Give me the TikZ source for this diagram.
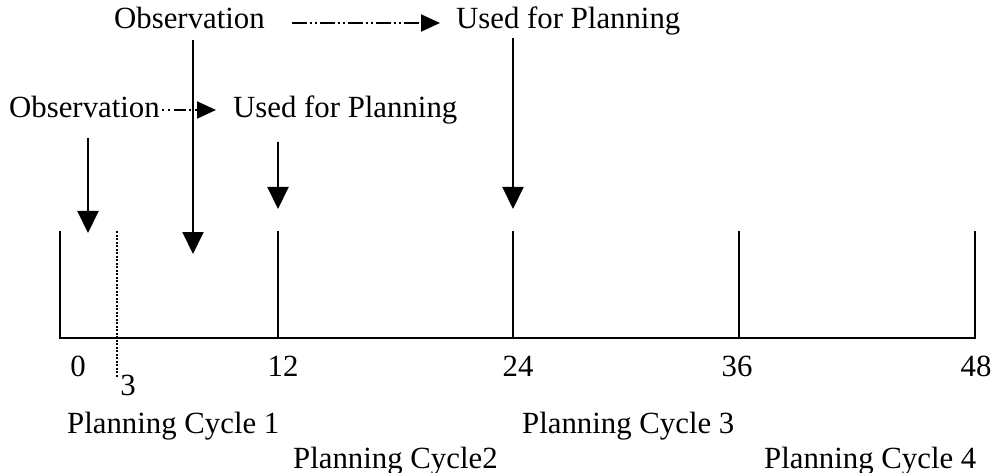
\documentclass[tikz,border=0pt]{standalone}
\usepackage{fontspec}
\setmainfont{Liberation Serif}
\usetikzlibrary{arrows.meta}
\tikzset{
  lbl/.style={inner sep=0pt, anchor=base west, font=\fontsize{30.8}{36}\selectfont},
  num/.style={inner sep=0pt, anchor=base, font=\fontsize{30.8}{36}\selectfont},
  tline/.style={line width=2.2pt},
  downarrow/.style={line width=2pt, -{Triangle[width=21pt,length=22pt]}},
  linkarrow/.style={line width=2pt, -{Triangle[width=17pt,length=19pt]}},
}
\begin{document}
\begin{tikzpicture}[x=1pt,y=-1pt]
\useasboundingbox (0,0) rectangle (993,473);

% labels along the top
\node[lbl] (obs2) at (114,29) {Observation};
\node[lbl] (use2) at (456,29) {Used for Planning};
\node[lbl] (obs1) at (9,118) {Observation};
\node[lbl] (use1) at (233,118) {Used for Planning};

% time axis with cycle boundaries
\draw[tline] (60,231) -- (60,338) -- (975,338) -- (975,231);
\draw[tline] (278,231) -- (278,338);
\draw[tline] (513,231) -- (513,338);
\draw[tline] (739,231) -- (739,338);
\draw[line width=2pt, dash pattern=on 2pt off 1.5pt] (117,231) -- (117,378);

% tick labels
\node[num] (t0)  at (78,376)  {0};
\node[num] (t3)  at (128,395) {3};
\node[num] (t12) at (283,376) {12};
\node[num] (t24) at (518,376) {24};
\node[num] (t36) at (737,376) {36};
\node[num] (t48) at (976,376) {48};

% planning cycle names
\node[lbl] (pc1) at (67,433)  {Planning Cycle 1};
\node[lbl] (pc2) at (293,468) {Planning Cycle2};
\node[lbl] (pc3) at (522,433) {Planning Cycle 3};
\node[lbl] (pc4) at (764,468) {Planning Cycle 4};

% observation / use markers
\coordinate (a1s) at (88,138);  \coordinate (a1e) at (88,233);
\coordinate (a2s) at (193,40);  \coordinate (a2e) at (193,254);
\coordinate (a3s) at (278,142); \coordinate (a3e) at (278,209);
\coordinate (a4s) at (513,38);  \coordinate (a4e) at (513,209);
\draw[downarrow] (a1s) -- (a1e);
\draw[downarrow] (a2s) -- (a2e);
\draw[downarrow] (a3s) -- (a3e);
\draw[downarrow] (a4s) -- (a4e);

% links from observation to its use
\coordinate (l1s) at (162,110); \coordinate (l1e) at (216,110);
\draw[linkarrow, dash pattern=on 2pt off 4pt on 2pt off 4pt on 12pt off 3pt] (l1s) -- (l1e);
\coordinate (l2s) at (292,23); \coordinate (l2e) at (440,23);
\draw[linkarrow, dash pattern=on 15pt off 3pt on 2pt off 3pt on 2pt off 3pt] (l2s) -- (l2e);
\end{tikzpicture}
\end{document}
